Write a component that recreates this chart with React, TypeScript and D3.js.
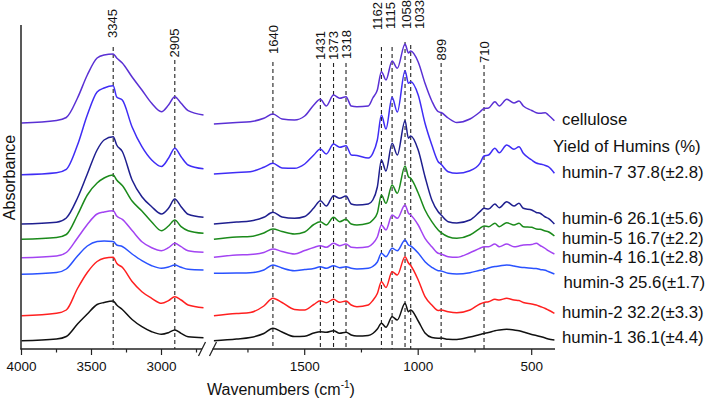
import React from 'react';
import * as d3 from 'd3';

// ---------- DATA ----------
const seriesNames = ['cellulose', 'humin-7', 'humin-6', 'humin-5', 'humin-4', 'humin-3', 'humin-2', 'humin-1'];
const seriesColors = ['#5a30d4', '#3f2df5', '#1f1f8f', '#1b8a1b', '#a344f2', '#2a52ff', '#ff2020', '#111111'];

// high-wavenumber segment (cm-1)
const leftWavenumbers = [4000, 3750, 3680, 3600, 3530, 3460, 3410, 3345, 3320, 3280, 3210, 3140, 3070, 3000, 2950, 2905, 2860, 2810, 2700];
// low-wavenumber segment (cm-1)
const rightWavenumbers = [1900, 1800, 1740, 1680, 1640, 1600, 1545, 1500, 1460, 1431, 1405, 1373, 1346, 1318, 1295, 1270, 1220, 1200, 1180, 1162, 1142, 1115, 1092, 1058, 1043, 1033, 1000, 970, 940, 912, 899, 868, 830, 772, 728, 710, 690, 662, 643, 610, 578, 556, 537, 500, 480, 463, 440, 427, 400];

// absorbance (arbitrary units, stacked)
const celluloseLeft = [226, 228.5, 231.5, 251, 274, 291, 294, 295, 291, 286, 272, 259, 245.7, 237.3, 244, 252.3, 245.7, 238.3, 234];
const humin7Left = [174.3, 176.3, 179.7, 204, 234, 257, 261, 263.3, 252, 249, 222, 202.3, 189, 182.5, 190.7, 200.7, 192.3, 184, 180.2];
const humin6Left = [125, 126.7, 131, 151, 175, 199, 209, 212.3, 204, 197.5, 169, 152.3, 142.3, 135, 140.7, 150, 142.3, 134.7, 131.7];
const humin5Left = [109.7, 111.5, 114.5, 134, 154, 166, 171, 174, 169, 163.5, 148, 138, 127, 118.3, 123, 129, 122.3, 118.3, 115.7];
const humin4Left = [91.3, 93, 96.5, 111, 124.5, 135, 137, 138.3, 133, 129.7, 118.5, 107.3, 101.3, 98.3, 101.3, 105.7, 102.3, 98.3, 96.7];
const humin3Left = [74.7, 76.5, 80, 93, 103, 107.5, 108, 107.5, 104, 102.5, 95, 88.3, 83.3, 80.7, 82, 84, 81.7, 79.7, 79];
const humin2Left = [33.3, 35.7, 39, 60.5, 76.5, 87.5, 90.7, 91.7, 85.7, 81.7, 67.5, 57.3, 50.7, 45.7, 48.3, 52.3, 49, 44, 41.3];
const humin1Left = [8.3, 10, 12.5, 25, 35, 44.5, 46.5, 48, 44, 39.5, 29.5, 22.3, 17.3, 14.7, 16.3, 19, 15.7, 12.3, 11.3];

const celluloseRight = [225, 226.5, 227.3, 230.7, 235, 230, 229, 233, 244, 249.7, 243, 254, 250.7, 252.3, 243, 242.3, 243, 251, 259, 277.3, 269, 288, 280.7, 305, 296, 298, 287, 265.7, 248, 237.3, 236.5, 231, 226.5, 230, 237, 240.5, 241, 247.3, 243, 249.7, 246, 248, 243, 238.5, 236.3, 235.7, 236.3, 234, 228.3];
const humin7Right = [175, 176.5, 177.3, 181.7, 185.7, 181, 180.7, 185, 194, 200, 195, 205, 201.7, 203.3, 194, 193.5, 191, 195.7, 209, 234, 220, 251.7, 237, 278.3, 265.7, 267.3, 254, 225.7, 204, 187.3, 184.7, 177.3, 175.7, 178.3, 185.7, 193, 194, 200.7, 196.3, 204, 199.7, 202.3, 195.7, 189, 186, 185, 183.5, 182.3, 175.7];
const humin6Right = [125, 127, 128, 131.7, 136.7, 132, 130.7, 132.5, 141, 148.3, 143, 153.3, 150.7, 153, 145, 144, 145, 149, 162, 189, 178, 205.7, 194, 228.3, 210.7, 213, 199, 172.3, 149, 137.3, 134, 127.3, 126, 129, 137.3, 140.7, 140, 145, 141.3, 147.3, 143, 145.7, 140.7, 139, 136.5, 135.7, 132, 130.7, 125];
const humin5Right = [109.7, 112, 112.5, 116, 120, 117.5, 115, 117, 124.5, 127.3, 124, 131.7, 127.3, 129.7, 125, 124, 125.7, 129, 136, 154, 145.7, 164, 155.7, 183, 172.3, 170.7, 156, 139, 127.3, 119, 116.3, 112.3, 110.7, 114, 120.7, 123, 122.3, 125.7, 122.3, 126.3, 124, 125.7, 122.3, 121.7, 120, 119.7, 118, 117.3, 113];
const humin4Right = [91.7, 94, 94.5, 96.5, 100, 97.5, 95, 98.5, 101.5, 103.3, 101.7, 105.7, 103.3, 105, 101.7, 101.3, 102.3, 105.5, 112, 124, 119, 134, 130.7, 144, 135.7, 134, 124, 110.7, 102.3, 95.7, 95, 92.3, 91.7, 96.3, 100.7, 102.3, 102.3, 105, 102.3, 105, 102.3, 103, 104, 104.5, 105.7, 103.5, 100.5, 98.3, 95];
const humin3Right = [75.7, 76, 76.3, 79, 84, 81, 78.3, 79.5, 80.5, 82.3, 80.7, 83.3, 81.3, 82.3, 80.7, 80, 80.7, 82.5, 87, 95.7, 92.3, 100.7, 98.3, 109, 104, 103, 96, 87.3, 81.7, 78.3, 78, 75.7, 75, 76.3, 78.7, 79.5, 81, 82.5, 83, 84, 83, 82, 81.5, 80.7, 80.5, 79.5, 78.7, 77.5, 75];
const humin2Right = [33.3, 35.5, 36.5, 43, 50.7, 46.5, 39.5, 39, 44.5, 48.3, 46.3, 49.7, 46.7, 48, 44, 42.3, 44, 48.5, 55.5, 67.3, 61.5, 77.3, 74, 92.3, 86, 83.5, 69, 52.3, 44, 38.5, 39, 37.3, 36.3, 39, 45, 46.5, 47.3, 49.7, 49, 50.7, 49, 48.5, 46.5, 45, 44, 42.5, 40.5, 39, 35.7];
const humin1Right = [8.3, 10, 11.5, 15.5, 20.7, 17, 12.5, 12.7, 16, 17.3, 16.7, 18.3, 15.7, 16.7, 14, 13, 13.5, 15.5, 20, 25.7, 21.7, 32.3, 29, 45.7, 37.3, 39, 28, 16, 11.5, 10.7, 11, 9.7, 9.5, 12, 14.5, 15.5, 16.5, 18.3, 19, 19.7, 19, 18.3, 17, 14.5, 13.5, 12.5, 11, 10, 9];

const leftSeries = [celluloseLeft, humin7Left, humin6Left, humin5Left, humin4Left, humin3Left, humin2Left, humin1Left];
const rightSeries = [celluloseRight, humin7Right, humin6Right, humin5Right, humin4Right, humin3Right, humin2Right, humin1Right];

const peakWavenumbers = [3345, 2905, 1640, 1431, 1373, 1318, 1162, 1115, 1058, 1033, 899, 710];

const leftMajorTicks = [4000, 3500, 3000];
const leftMinorTicks = [3750, 3250, 2750];
const rightMajorTicks = [1500, 1000, 500];
const rightMinorTicks = [1750, 1250, 750];

const legendTexts = ['cellulose', 'Yield of Humins (%)', 'humin-7 37.8(±2.8)', 'humin-6 26.1(±5.6)', 'humin-5 16.7(±2.2)', 'humin-4 16.1(±2.8)', 'humin-3 25.6(±1.7)', 'humin-2 32.2(±3.3)', 'humin-1 36.1(±4.4)'];

// ---------- LAYOUT ----------
const W = 708;
const H = 401;
const axisY = 349;
const topY = 25;
const FONT = "'Liberation Sans', Arial, Helvetica, sans-serif";
const peakLabelBottom = [38, 57.5, 54, 60, 60, 59, 30, 29, 29, 29, 60.5, 63];
const peakLineTop = [47, 60, 62, 63, 63, 63, 47, 47, 42, 45, 63, 65];
const peakLabelShift = [-0.5, -0.5, 0, 0, 0, 0, -3.7, -1.2, 1.2, 8.8, 0, 0];
const legendX = [562, 553, 562, 562, 562, 562, 563.5, 562, 562];
const legendY = [125, 152, 178, 224, 244, 263, 287.5, 317.5, 343];

export default function App() {
  const xL = d3.scaleLinear().domain([4000, 2700]).range([21.5, 203.5]);
  const xR = d3.scaleLinear().domain([1900, 400]).range([213.9, 554.4]);
  const y = d3.scaleLinear().domain([0, 324]).range([axisY, topY]);

  const lineL = d3.line<number>().x((_, i) => xL(leftWavenumbers[i])).y((d) => y(d)).curve(d3.curveMonotoneX);
  const lineR = d3.line<number>().x((_, i) => xR(rightWavenumbers[i])).y((d) => y(d)).curve(d3.curveMonotoneX);

  const px = (w: number) => (w >= 2000 ? xL(w) : xR(w));

  return (
    <svg width={W} height={H} style={{ position: 'absolute', left: 0, top: 0, background: '#fff' }} fontFamily={FONT}>
      <rect x={0} y={0} width={W} height={H} fill="#fff" />
      {/* dashed peak lines */}
      {peakWavenumbers.map((w, i) => (
        <g key={'p' + w}>
          <line x1={px(w)} x2={px(w)} y1={peakLineTop[i]} y2={axisY} stroke="#222" strokeWidth={1.1} strokeDasharray="4,3" />
          <text transform={`translate(${px(w) + peakLabelShift[i] + 4.6},${peakLabelBottom[i]}) rotate(-90)`} fontSize={13} fill="#111">{w}</text>
        </g>
      ))}
      {/* spectra */}
      {seriesNames.map((n, i) => (
        <g key={n}>
          <path d={lineL(leftSeries[i]) || ''} fill="none" stroke={seriesColors[i]} strokeWidth={1.5} />
          <path d={lineR(rightSeries[i]) || ''} fill="none" stroke={seriesColors[i]} strokeWidth={1.5} />
        </g>
      ))}
      {/* axes */}
      <line x1={21} x2={21} y1={topY} y2={axisY + 0.5} stroke="#222" strokeWidth={1.5} />
      <line x1={20.5} x2={202} y1={axisY} y2={axisY} stroke="#222" strokeWidth={1.5} />
      <line x1={212.5} x2={555} y1={axisY} y2={axisY} stroke="#222" strokeWidth={1.5} />
      <line x1={198.5} x2={205.5} y1={356} y2={342} stroke="#222" strokeWidth={1.3} />
      <line x1={209.5} x2={216.5} y1={356} y2={342} stroke="#222" strokeWidth={1.3} />
      {leftMajorTicks.map((t) => (
        <g key={'lm' + t}>
          <line x1={xL(t)} x2={xL(t)} y1={axisY} y2={axisY + 6} stroke="#222" strokeWidth={1.2} />
          <text x={xL(t)} y={370.5} fontSize={13.5} textAnchor="middle" fill="#111">{t}</text>
        </g>
      ))}
      {leftMinorTicks.map((t) => (
        <line key={'ln' + t} x1={xL(t)} x2={xL(t)} y1={axisY} y2={axisY + 3.5} stroke="#222" strokeWidth={1.2} />
      ))}
      {rightMajorTicks.map((t) => (
        <g key={'rm' + t}>
          <line x1={xR(t)} x2={xR(t)} y1={axisY} y2={axisY + 6} stroke="#222" strokeWidth={1.2} />
          <text x={xR(t)} y={370.5} fontSize={13.5} textAnchor="middle" fill="#111">{t}</text>
        </g>
      ))}
      {rightMinorTicks.map((t) => (
        <line key={'rn' + t} x1={xR(t)} x2={xR(t)} y1={axisY} y2={axisY + 3.5} stroke="#222" strokeWidth={1.2} />
      ))}
      {/* axis titles */}
      <text x={207} y={395} fontSize={16} fill="#111">
        Wavenumbers (cm<tspan dy={-7} fontSize={10}>-1</tspan><tspan dy={7}>)</tspan>
      </text>
      <text transform="translate(15,177.5) rotate(-90)" fontSize={16} textAnchor="middle" fill="#111">Absorbance</text>
      {/* legend */}
      {legendTexts.map((t, i) => (
        <text key={t} x={legendX[i]} y={legendY[i]} fontSize={16.8} fill="#111">{t}</text>
      ))}
    </svg>
  );
}
